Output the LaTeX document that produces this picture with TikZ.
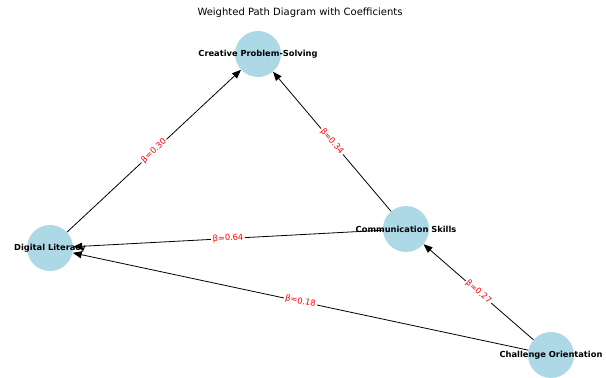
\documentclass[tikz,border=0pt]{standalone}
\usepackage{fontspec}
\setmainfont{DejaVu Sans}
\usetikzlibrary{arrows.meta}
\definecolor{nodeblue}{RGB}{173,216,230}
\definecolor{coefred}{RGB}{255,0,0}
\begin{document}
\begin{tikzpicture}[x=1pt,y=-1pt,
  concept/.style={circle, fill=nodeblue, draw=none, minimum size=46pt, inner sep=0pt},
  ctext/.style={font=\fontsize{8.3}{9}\selectfont\bfseries, text=black},
  path/.style={draw=black, line width=0.8pt, -{Triangle[length=9pt,width=7pt]}},
  coef/.style={midway, sloped, fill=white, inner sep=1.5pt, text=coefred,
    font=\fontsize{8.3}{9}\selectfont}]
  \useasboundingbox (0,0) rectangle (606,378);
  % title
  \node[font=\fontsize{10}{12}\selectfont] (title) at (300,13) {Weighted Path Diagram with Coefficients};
  % constructs
  \node[concept] (cps) at (258,54) {};
  \node[concept] (dl)  at (50,248) {};
  \node[concept] (cs)  at (406,229) {};
  \node[concept] (co)  at (551,355) {};
  % weighted paths
  \draw[path] (dl) -- (cps) node[coef] {β=0.30};
  \draw[path] (cs) -- (cps) node[coef] {β=0.34};
  \draw[path] (cs) -- (dl)  node[coef] {β=0.64};
  \draw[path] (co) -- (dl)  node[coef] {β=0.18};
  \draw[path] (co) -- (cs)  node[coef] {β=0.27};
  % construct names
  \node[ctext] (cpsname) at (cps) {Creative Problem-Solving};
  \node[ctext] (dlname)  at (dl)  {Digital Literacy};
  \node[ctext] (csname)  at (cs)  {Communication Skills};
  \node[ctext] (coname)  at (co)  {Challenge Orientation};
\end{tikzpicture}
\end{document}
